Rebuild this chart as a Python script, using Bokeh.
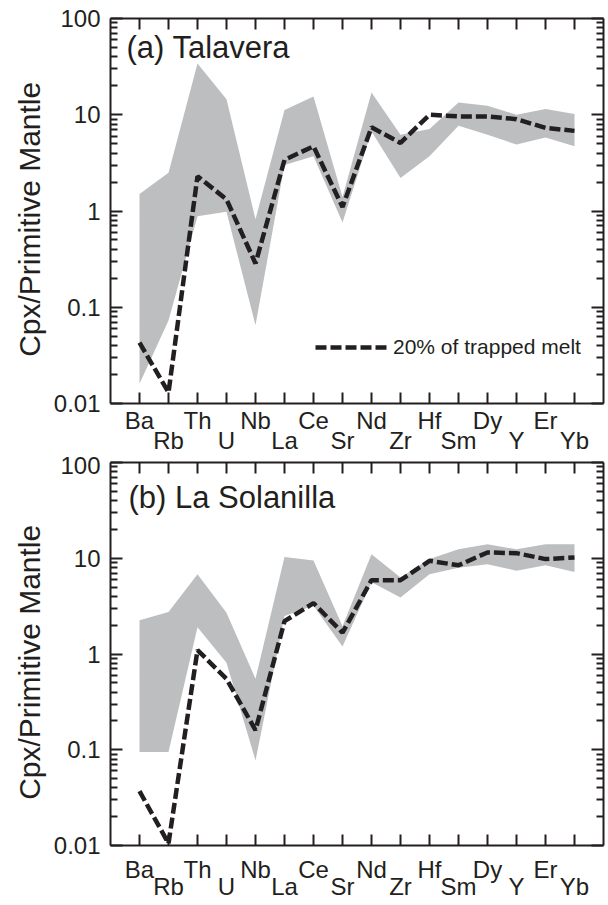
from bokeh.plotting import figure
from bokeh.models import (Range1d, FixedTicker, LinearAxis, LogAxis,
                          CustomJSTickFormatter, Legend, LegendItem, Label)
from bokeh.layouts import column
from bokeh.embed import file_html
from bokeh.resources import INLINE

# ---------------- data ----------------
elements = ["Ba", "Rb", "Th", "U", "Nb", "La", "Ce", "Sr",
            "Nd", "Zr", "Hf", "Sm", "Dy", "Y", "Er", "Yb"]

# (a) Talavera: range of clinopyroxene (grey band) and 20% trapped melt model
tal_upper = [1.5, 2.5, 34, 14.5, 0.82, 11.2, 15.5, 1.4,
             17, 6.2, 7.1, 13.4, 12.4, 10.0, 11.5, 10.2]
tal_lower = [0.016, 0.073, 0.88, 0.98, 0.065, 3.0, 3.7, 0.76,
             6.7, 2.2, 3.7, 7.7, 6.2, 4.9, 5.8, 4.7]
tal_melt = [0.043, 0.013, 2.3, 1.32, 0.285, 3.4, 4.7, 1.1,
            7.4, 5.1, 10.0, 9.6, 9.6, 9.0, 7.3, 6.8]

# (b) La Solanilla
sol_upper = [2.25, 2.75, 6.8, 2.7, 0.55, 10.3, 9.5, 1.95,
             11, 6.3, 9.8, 12.4, 14, 12.4, 14, 14]
sol_lower = [0.095, 0.095, 1.9, 0.81, 0.077, 2.5, 3.2, 1.2,
             5.6, 3.9, 6.8, 7.95, 8.65, 7.4, 8.45, 7.2]
sol_melt = [0.037, 0.0105, 1.1, 0.55, 0.16, 2.2, 3.4, 1.67,
            5.9, 5.9, 9.4, 8.45, 11.5, 11.3, 9.8, 10.2]

y_major = [0.01, 0.1, 1, 10, 100]
legend_text = "20% of trapped melt"
y_title = "Cpx/Primitive Mantle"

# ---------------- style ----------------
INK = "#231f20"
BAND = "#bcbec0"
FONT = "Liberation Sans"
TICK_FS = "24px"
NBSP = "\u00a0"


def log_ticker():
    minors = [m * v for v in y_major[:-1] for m in range(2, 10)]
    return FixedTicker(ticks=y_major, minor_ticks=minors)


def blank_formatter():
    return CustomJSTickFormatter(code="return '';")


def make_panel(title, upper, lower, melt, frame_h, b_top, b_bottom,
               std1, std2, title_pos, with_legend):
    xs = list(range(1, len(elements) + 1))
    p = figure(frame_width=493, frame_height=frame_h, y_axis_type="log",
               x_range=Range1d(0, len(elements) + 1),
               y_range=Range1d(y_major[0], y_major[-1]),
               output_backend="svg", toolbar_location=None,
               min_border_left=110, min_border_right=3,
               min_border_top=b_top, min_border_bottom=b_bottom)
    p.xgrid.visible = False
    p.ygrid.visible = False
    p.outline_line_color = None

    p.varea(x=xs, y1=lower, y2=upper, fill_color=BAND)
    r = p.line(xs, melt, line_color=INK, line_width=4.5, line_dash="11 4")

    even = [x for x in xs if x % 2 == 0]

    # bottom axis: first row of labels + ticks
    ax = p.xaxis[0]
    ax.ticker = FixedTicker(ticks=xs)
    ax.major_label_overrides = {x: (elements[x - 1] if x % 2 == 1 else "") for x in xs}
    ax.major_tick_in = 11
    ax.major_tick_out = 0
    ax.minor_tick_line_color = None
    ax.axis_line_width = 2
    ax.axis_line_color = INK
    ax.major_tick_line_width = 2
    ax.major_tick_line_color = INK
    ax.major_label_standoff = std1
    ax.major_label_text_font = FONT
    ax.major_label_text_font_size = TICK_FS
    ax.major_label_text_color = INK

    # second row of staggered labels
    ax2 = LinearAxis(ticker=FixedTicker(ticks=even),
                     major_label_overrides={x: elements[x - 1] for x in even},
                     axis_line_color=None, major_tick_line_color=None,
                     minor_tick_line_color=None, major_tick_in=0, major_tick_out=0,
                     major_label_standoff=std2, major_label_text_font=FONT,
                     major_label_text_font_size=TICK_FS,
                     major_label_text_color=INK)
    p.add_layout(ax2, "below")

    # top mirror axis (ticks only)
    axt = LinearAxis(ticker=FixedTicker(ticks=xs), formatter=blank_formatter(),
                     major_tick_in=11, major_tick_out=0,
                     minor_tick_line_color=None, axis_line_width=2, axis_line_color=INK,
                     major_tick_line_width=2, major_tick_line_color=INK,
                     major_label_text_font_size="1px", major_label_standoff=0)
    p.add_layout(axt, "above")

    # left axis
    ay = p.yaxis[0]
    ay.ticker = log_ticker()
    ay.formatter = CustomJSTickFormatter(code="return String(parseFloat(tick.toPrecision(3)));")
    ay.major_tick_in = 12
    ay.major_tick_out = 0
    ay.minor_tick_in = 7
    ay.minor_tick_out = 0
    ay.axis_line_width = 2
    ay.axis_line_color = INK
    ay.major_tick_line_width = 2
    ay.minor_tick_line_width = 2
    ay.major_tick_line_color = INK
    ay.minor_tick_line_color = INK
    ay.major_label_standoff = 10
    ay.major_label_text_font = FONT
    ay.major_label_text_font_size = TICK_FS
    ay.major_label_text_color = INK
    ay.axis_label = y_title + NBSP * 2
    ay.axis_label_text_font = FONT
    ay.axis_label_text_font_size = "30px"
    ay.axis_label_text_font_style = "normal"
    ay.axis_label_text_color = INK
    ay.axis_label_standoff = 5

    # right mirror axis (ticks only)
    ayr = LogAxis(ticker=log_ticker(), formatter=blank_formatter(),
                  major_tick_in=12, major_tick_out=0,
                  minor_tick_in=7, minor_tick_out=0, axis_line_width=2,
                  axis_line_color=INK, major_tick_line_width=2, minor_tick_line_width=2,
                  major_tick_line_color=INK, minor_tick_line_color=INK,
                  major_label_text_font_size="1px", major_label_standoff=0)
    p.add_layout(ayr, "right")

    p.add_layout(Label(x=title_pos[0], y=title_pos[1],
                       text=title, text_font=FONT, text_font_size="31px",
                       text_color=INK, text_baseline="alphabetic"))

    if with_legend:
        leg = Legend(items=[LegendItem(label=legend_text, renderers=[r])],
                     location=(205, 44), glyph_width=73, glyph_height=20,
                     label_standoff=5, padding=0, margin=0,
                     border_line_color=None, background_fill_alpha=0,
                     label_text_font=FONT, label_text_font_size="21px",
                     label_text_color=INK)
        p.add_layout(leg)
    return p


p1 = make_panel("(a) Talavera", tal_upper, tal_lower, tal_melt,
                385, 18, 30, 3, -10, (0.55, 50.0), True)
p2 = make_panel("(b) La Solanilla", sol_upper, sol_lower, sol_melt,
                383, 6, 30, 10, -13, (0.62, 43.6), False)

layout = column(p1, p2, spacing=0)
open("out.html", "w").write(file_html(layout, INLINE))
